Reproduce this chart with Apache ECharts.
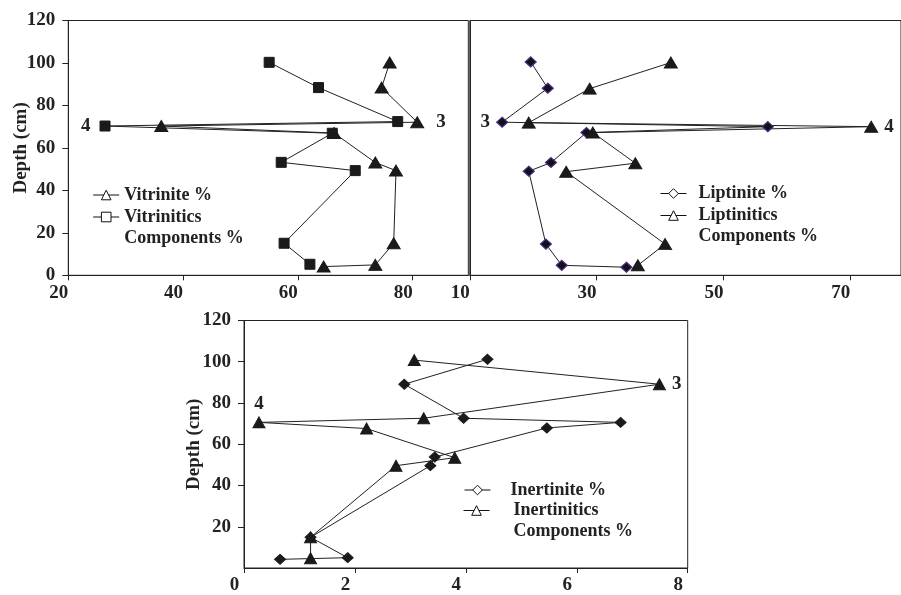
<!DOCTYPE html>
<html><head><meta charset="utf-8">
<script src="https://cdn.jsdelivr.net/npm/echarts@6/dist/echarts.min.js"></script>
<style>html,body{margin:0;padding:0;background:#fff}#c{width:901px;height:595px}</style>
</head><body><div id="c"></div>
<script>
// ---- data (depth in cm) ----
const vitriniteX = [76.0, 74.6, 80.8, 36.2, 66.3, 73.5, 77.1, 76.7, 73.5, 64.5];
const vitriniteDepth = [100.2, 88.4, 72.1, 70.3, 67.0, 53.1, 49.3, 15.1, 4.9, 4.1];
const vitriniticsX = [55.0, 63.6, 77.4, 26.4, 66.0, 57.1, 70.0, 57.6, 62.1];
const vitriniticsDepth = [100.3, 88.4, 72.4, 70.3, 66.9, 53.2, 49.3, 15.1, 5.2];

const liptiniteX = [19.6, 22.3, 15.1, 57.0, 28.4, 22.8, 19.3, 22.0, 24.5, 34.7];
const liptiniteDepth = [100.5, 88.1, 72.1, 70.0, 67.2, 53.1, 49.0, 14.7, 4.7, 3.8];
const liptiniticsX = [41.7, 28.9, 19.3, 73.3, 29.4, 36.1, 25.2, 40.8, 36.5];
const liptiniticsDepth = [100.2, 87.9, 71.9, 70.0, 67.2, 52.8, 48.8, 14.7, 4.7];

const inertiniteX = [4.39, 2.89, 3.96, 6.79, 5.46, 3.44, 3.36, 1.20, 1.87, 0.65];
const inertiniteDepth = [101.2, 89.1, 72.6, 70.6, 67.9, 53.8, 49.6, 14.9, 5.0, 4.2];
const inertiniticsX = [3.07, 7.49, 3.24, 0.27, 2.21, 3.80, 2.74, 1.20, 1.20];
const inertiniticsDepth = [100.8, 89.1, 72.6, 70.6, 67.6, 53.5, 49.6, 14.9, 4.7];

// tick settings
const depthTicks = [0, 20, 40, 60, 80, 100, 120];
const vitTicks = [20, 40, 60, 80];
const lipTicks = [10, 30, 50, 70];
const inerTicks = [0, 2, 4, 6, 8];

// annotations: [seriesName, pointIndex, text, position, distance]
const annotations = [
  ['Vitrinitics Components %', 3, '4', 'left', 9],
  ['Vitrinite %', 2, '3', 'right', 12],
  ['Liptinite %', 2, '3', 'left', 6],
  ['Liptinitics Components %', 3, '4', 'right', 6],
  ['Inertinitics Components %', 1, '3', 'right', 6],
  ['Inertinitics Components %', 3, '4', 'top', 3]
];

const FONT = '"Liberation Serif","Times New Roman",serif';
const TXT = '#222';
const LINE = '#222';

function pairs(xs, ys) { return xs.map((x, i) => [x, ys[i]]); }

function mkSeries(name, xs, ys, gi, symbol, size, itemStyle) {
  const data = pairs(xs, ys).map((p, i) => {
    const a = annotations.find(a => a[0] === name && a[1] === i);
    if (!a) return p;
    return { value: p, label: { show: true, formatter: a[2], position: a[3], distance: a[4],
      fontFamily: FONT, fontWeight: 'bold', fontSize: 19, color: TXT } };
  });
  return {
    name, type: 'line', xAxisIndex: gi, yAxisIndex: gi, data,
    symbol, symbolSize: size, showAllSymbol: true, animation: false,
    lineStyle: { color: LINE, width: 1 },
    itemStyle: itemStyle || { color: '#1a1a1a', borderColor: '#1a1a1a' },
    emphasis: { disabled: true }, z: 3
  };
}

function xAxis(gi, ticks, max) {
  const min = ticks[0], interval = ticks[1] - ticks[0];
  return {
    type: 'value', gridIndex: gi, min, max, interval,
    splitLine: { show: false },
    axisLine: { show: true, onZero: false, lineStyle: { color: LINE, width: 1 } },
    axisTick: { show: true, inside: false, length: 5, lineStyle: { color: LINE } },
    axisLabel: { show: true, margin: 8, showMaxLabel: ticks[ticks.length - 1] === max,
      formatter: v => '{t|' + v + '}',
      rich: { t: { fontFamily: FONT, fontWeight: 'bold', fontSize: 19, color: TXT, padding: [0, 19, 0, 0] } } }
  };
}

function yAxis(gi, show, showZero, gap) {
  return {
    type: 'value', gridIndex: gi, min: depthTicks[0], max: depthTicks[depthTicks.length - 1],
    interval: depthTicks[1] - depthTicks[0],
    name: show ? 'Depth (cm)' : '', nameLocation: 'middle', nameGap: gap, nameRotate: 90,
    nameMoveOverlap: false,
    nameTextStyle: { fontFamily: FONT, fontWeight: 'bold', fontSize: 19, color: TXT },
    splitLine: { show: false },
    axisLine: { show: true, onZero: false, lineStyle: { color: LINE, width: 1 } },
    axisTick: { show: show, length: 6, lineStyle: { color: LINE } },
    axisLabel: { show: show, showMinLabel: showZero, margin: 13, fontFamily: FONT, fontWeight: 'bold', fontSize: 19, color: TXT }
  };
}

function legend(name, left, top, multiline, extraPad) {
  const parts = name.split(' Components');
  return {
    left, top, padding: 0, orient: 'vertical', itemWidth: 26, itemHeight: 12, selectedMode: false,
    data: [{ name, itemStyle: { color: '#fff', borderColor: '#111', borderWidth: 1 },
      lineStyle: { color: '#111', width: 1 } }],
    formatter: multiline ? (n => '\n' + parts[0] + '\nComponents' + parts[1]) : undefined,
    textStyle: { fontFamily: FONT, fontWeight: 'bold', fontSize: 18, color: TXT, lineHeight: 21,
      padding: [0, 0, 0, extraPad] }
  };
}

const chart = echarts.init(document.getElementById('c'), null, { renderer: 'canvas' });
chart.setOption({
  backgroundColor: '#fff',
  animation: false,
  grid: [
    { left: 68.3, top: 20.5, width: 400, height: 254.8, show: true, borderColor: LINE, borderWidth: 1, backgroundColor: 'transparent' },
    { left: 469.8, top: 20.5, width: 431.5, height: 254.8, show: true, borderColor: LINE, borderWidth: 1, backgroundColor: 'transparent' },
    { left: 244, top: 320.5, width: 443.7, height: 254.8, show: true, borderColor: LINE, borderWidth: 1, backgroundColor: 'transparent' }
  ],
  xAxis: [xAxis(0, vitTicks, 89.7), xAxis(1, lipTicks, 78), xAxis(2, inerTicks, 8)],
  yAxis: [yAxis(0, true, true, 38), yAxis(1, false, false, 38), yAxis(2, true, false, 40)],
  legend: [
    legend('Vitrinite %', 92.7, 184.5, false, 0),
    legend('Vitrinitics Components %', 92.7, 185.5, true, 0),
    legend('Liptinite %', 660, 183, false, 7),
    legend('Liptinitics Components %', 660, 184, true, 7),
    legend('Inertinite %', 464, 479.5, false, 15),
    legend('Inertinitics Components %', 463, 479, true, 19)
  ],
  series: [
    mkSeries('Vitrinite %', vitriniteX, vitriniteDepth, 0, 'triangle', [13, 11]),
    mkSeries('Vitrinitics Components %', vitriniticsX, vitriniticsDepth, 0, 'rect', 10),
    mkSeries('Liptinite %', liptiniteX, liptiniteDepth, 1, 'diamond', [11, 10],
      { color: '#111', borderColor: '#4a2a8c', borderWidth: 1.2 }),
    mkSeries('Liptinitics Components %', liptiniticsX, liptiniticsDepth, 1, 'triangle', [13, 11]),
    mkSeries('Inertinite %', inertiniteX, inertiniteDepth, 2, 'diamond', [11, 10]),
    mkSeries('Inertinitics Components %', inertiniticsX, inertiniticsDepth, 2, 'triangle', [12, 11])
  ]
});
</script></body></html>
